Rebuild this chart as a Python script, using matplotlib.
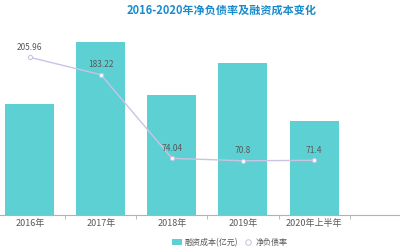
import matplotlib
matplotlib.use("Agg")
import matplotlib.pyplot as plt
from matplotlib.lines import Line2D
from matplotlib.patches import Patch

plt.rcParams['font.family'] = ['Noto Sans CJK SC', 'DejaVu Sans']

years = ["2016年", "2017年", "2018年", "2019年", "2020年上半年"]
cost = [111, 173, 120, 152, 94]  # 融资成本(亿元)
net_debt = [205.96, 183.22, 74.04, 70.8, 71.4]  # 净负债率
net_debt_labels = ["205.96", "183.22", "74.04", "70.8", "71.4"]

bar_color = "#5dd0d3"
line_color = "#c9c4e2"
text_color = "#595959"

fig = plt.figure(figsize=(4, 2.5), dpi=100)
ax = fig.add_axes([0, 0.14, 1, 0.74])
x = list(range(len(years)))

ax.bar(x, cost, width=0.69, color=bar_color, zorder=2)
ax.set_xlim(-0.42, 5.21)
ax.set_ylim(0, 185)
ax.set_yticks([])
for s in ["top", "left", "right"]:
    ax.spines[s].set_visible(False)
ax.spines["bottom"].set_color("#aab2bd")
ax.spines["bottom"].set_linewidth(0.8)
ax.set_xticks(x)
ax.set_xticklabels(years, fontsize=6.5, color=text_color)
ax.tick_params(axis="x", length=0, pad=3)
ax.set_xticks([i + 0.5 for i in range(len(years))], minor=True)
ax.tick_params(axis="x", which="minor", length=3, color="#aab2bd", width=0.6)

ax2 = ax.twinx()
ax2.plot(x, net_debt, color=line_color, linewidth=1.0, marker="o",
         markersize=3, markerfacecolor="white", markeredgecolor=line_color,
         markeredgewidth=0.8, zorder=3)
ax2.set_ylim(0, 241.6)
ax2.set_yticks([])
ax2.set_xlim(-0.42, 5.21)
for s in ["top", "left", "right", "bottom"]:
    ax2.spines[s].set_visible(False)
for xi, v, lab in zip(x, net_debt, net_debt_labels):
    ax2.annotate(lab, (xi, v), xytext=(0, 4), textcoords="offset points",
                 ha="center", va="bottom", fontsize=6, color=text_color)

fig.text(0.555, 0.958, "2016-2020年净负债率及融资成本变化", ha="center", va="center",
         fontsize=8, fontweight="bold", color="#1a8ccb")

handles = [Patch(facecolor=bar_color, edgecolor="none"),
           Line2D([], [], linestyle="none", marker="o", markersize=4,
                  markerfacecolor="white", markeredgecolor="#c8cdd6", markeredgewidth=0.8)]
fig.legend(handles, ["融资成本(亿元)", "净负债率"], loc="center", bbox_to_anchor=(0.575, 0.03),
           ncol=2, frameon=False, fontsize=5.8, labelcolor=text_color,
           handlelength=1.2, handleheight=0.8, handletextpad=0.4, columnspacing=0.6)

fig.savefig("out.png", dpi=100)
